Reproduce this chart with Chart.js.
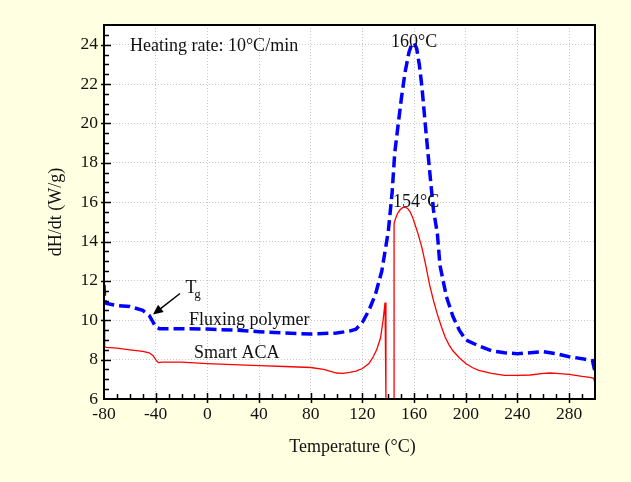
<!DOCTYPE html>
<html>
<head>
<meta charset="utf-8">
<script src="https://cdn.jsdelivr.net/npm/chart.js@4.4.0/dist/chart.umd.min.js"></script>
<style>
  html, body { margin: 0; padding: 0; background: #ffffe1; }
  #wrap { width: 631px; height: 482px; position: relative; }
</style>
</head>
<body>
<div id="wrap"><canvas id="dsc" width="631" height="482"></canvas></div>
<script>
// DSC curves
const fluxTemps = [-80, -79.5, -78, -70, -60, -50, -45, -42, -40, -37, -30, -20, 0, 20, 40, 60, 80, 100, 110, 115, 120, 125, 130, 135, 140, 143, 145, 150, 153, 156, 158, 160, 162, 164, 166, 169, 172, 175, 178, 180, 185, 190, 195, 200, 210, 220, 230, 240, 250, 260, 270, 280, 290, 298, 300];
const fluxValues = [11.8, 11.0, 10.85, 10.75, 10.7, 10.5, 10.25, 9.9, 9.65, 9.57, 9.57, 9.57, 9.55, 9.5, 9.42, 9.35, 9.3, 9.35, 9.45, 9.55, 9.9, 10.5, 11.3, 12.5, 14.5, 16.5, 18.5, 21.2, 22.6, 23.6, 24.0, 24.1, 23.8, 23.0, 21.9, 19.7, 17.6, 15.6, 14.4, 12.8, 11.2, 10.2, 9.5, 9.0, 8.7, 8.45, 8.35, 8.3, 8.35, 8.4, 8.3, 8.15, 8.05, 7.95, 7.4];

const acaTemps = [-80, -79.5, -78, -70, -60, -50, -45, -42, -40, -38, -35, -20, 0, 20, 40, 60, 80, 90, 100, 105, 110, 115, 120, 125, 128, 131, 134, 136, 137.5, 138.2, 144.5, 144.5, 145.5, 147, 149, 151, 153, 155, 157, 159, 161, 163, 166, 169, 172, 175, 178, 181, 184, 187, 190, 195, 200, 205, 210, 220, 230, 240, 250, 260, 265, 270, 280, 290, 296, 299, 300];
const acaValues = [10.0, 8.65, 8.62, 8.58, 8.5, 8.42, 8.35, 8.2, 8.0, 7.85, 7.87, 7.87, 7.8, 7.75, 7.7, 7.65, 7.6, 7.5, 7.32, 7.3, 7.35, 7.42, 7.55, 7.8, 8.1, 8.5, 9.1, 10.0, 10.9, 6.0, 6.0, 14.9, 15.15, 15.4, 15.6, 15.72, 15.75, 15.68, 15.5, 15.2, 14.8, 14.4, 13.7, 12.8, 11.8, 11.0, 10.3, 9.7, 9.15, 8.75, 8.45, 8.1, 7.8, 7.6, 7.45, 7.3, 7.2, 7.2, 7.22, 7.3, 7.32, 7.3, 7.25, 7.15, 7.1, 7.05, 6.8];

const xTicks = [-80, -40, 0, 40, 80, 120, 160, 200, 240, 280];
const yTicks = [6, 8, 10, 12, 14, 16, 18, 20, 22, 24];

const serif = '"Liberation Serif", "Times New Roman", serif';

function toPoints(xs, ys) {
    return xs.map((x, i) => ({ x: x, y: ys[i] }));
}

// background, frame, tick marks, notes
const decor = {
    id: 'decor',
    beforeDraw(chart) {
        const { ctx, chartArea: a } = chart;
        ctx.save();
        ctx.fillStyle = '#ffffe1';
        ctx.fillRect(0, 0, chart.width, chart.height);
        ctx.fillStyle = '#ffffff';
        ctx.fillRect(a.left, a.top, a.right - a.left, a.bottom - a.top);
        ctx.restore();
    },
    afterDraw(chart) {
        const { ctx, chartArea: a, scales: { x, y } } = chart;
        ctx.save();

        // tick marks
        ctx.strokeStyle = '#000';
        ctx.lineWidth = 1.5;
        ctx.beginPath();
        for (let t = -70; t < 300; t += 10) {
            const px = Math.round(x.getPixelForValue(t)) + 0.5;
            const major = xTicks.includes(t);
            ctx.moveTo(px, a.bottom - (major ? 6 : 5));
            ctx.lineTo(px, a.bottom + (major ? 4 : 0));
        }
        for (let v = 6.5; v < 25; v += 0.5) {
            const py = Math.round(y.getPixelForValue(v)) + 0.5;
            const major = yTicks.includes(v);
            ctx.moveTo(a.left - (major ? 3 : 0), py);
            ctx.lineTo(a.left + (major ? 7 : 5), py);
        }
        ctx.stroke();

        // frame
        ctx.lineWidth = 2;
        ctx.strokeRect(a.left, a.top, a.right - a.left, a.bottom - a.top);

        // arrow to Tg
        const x0 = x.getPixelForValue(-21.2), y0 = y.getPixelForValue(11.36);
        const x1 = x.getPixelForValue(-42.1), y1 = y.getPixelForValue(10.29);
        const ang = Math.atan2(y1 - y0, x1 - x0);
        ctx.lineWidth = 1.5;
        ctx.beginPath();
        ctx.moveTo(x0, y0);
        ctx.lineTo(x1 - 6 * Math.cos(ang), y1 - 6 * Math.sin(ang));
        ctx.stroke();
        ctx.fillStyle = '#000';
        ctx.beginPath();
        ctx.moveTo(x1, y1);
        ctx.lineTo(x1 - 10 * Math.cos(ang) + 4.5 * Math.sin(ang), y1 - 10 * Math.sin(ang) - 4.5 * Math.cos(ang));
        ctx.lineTo(x1 - 10 * Math.cos(ang) - 4.5 * Math.sin(ang), y1 - 10 * Math.sin(ang) + 4.5 * Math.cos(ang));
        ctx.closePath();
        ctx.fill();

        // text notes
        ctx.fillStyle = '#111';
        ctx.textBaseline = 'alphabetic';
        ctx.font = '18px ' + serif;
        ctx.textAlign = 'left';
        ctx.fillText('Heating rate: 10°C/min', x.getPixelForValue(-59.9), y.getPixelForValue(23.7));
        ctx.fillText('Fluxing polymer', x.getPixelForValue(-14.2), y.getPixelForValue(9.78));
        ctx.fillText('Smart ACA', x.getPixelForValue(-10.3), y.getPixelForValue(8.1));
        ctx.fillText('T', x.getPixelForValue(-17), y.getPixelForValue(11.4));
        ctx.font = '13px ' + serif;
        ctx.fillText('g', x.getPixelForValue(-10.2), y.getPixelForValue(11.15));
        ctx.font = '18px ' + serif;
        ctx.textAlign = 'center';
        ctx.fillText('160°C', x.getPixelForValue(160), y.getPixelForValue(23.9));
        ctx.fillText('154°C', x.getPixelForValue(161.5), y.getPixelForValue(15.75));

        // axis titles
        ctx.fillText('Temperature (°C)', (a.left + a.right) / 2 + 3, 452);
        ctx.translate(56, 212);
        ctx.rotate(-Math.PI / 2);
        ctx.textBaseline = 'middle';
        ctx.fillText('dH/dt (W/g)', 0, 0);
        ctx.restore();
    }
};

new Chart(document.getElementById('dsc'), {
    type: 'scatter',
    data: {
        datasets: [
            {
                label: 'Fluxing polymer',
                data: toPoints(fluxTemps, fluxValues),
                showLine: true,
                borderColor: '#0000ff',
                borderWidth: 3.5,
                borderDash: [11, 5],
                pointRadius: 0,
                tension: 0
            },
            {
                label: 'Smart ACA',
                data: toPoints(acaTemps, acaValues),
                showLine: true,
                borderColor: '#ff0000',
                borderWidth: 1.3,
                pointRadius: 0,
                tension: 0
            }
        ]
    },
    options: {
        responsive: false,
        animation: false,
        layout: { padding: { left: 0, top: 25, right: 36, bottom: 0 } },
        plugins: {
            legend: { display: false },
            tooltip: { enabled: false }
        },
        scales: {
            x: {
                type: 'linear',
                min: -80,
                max: 300,
                afterFit(scale) { scale.height = 83; },
                afterBuildTicks(scale) { scale.ticks = xTicks.map(v => ({ value: v })); },
                ticks: {
                    includeBounds: false,
                    color: '#111',
                    padding: 5,
                    font: { family: serif, size: 17.5 }
                },
                grid: { color: '#c8c8c8', lineWidth: 1, drawTicks: false },
                border: { display: false, dash: [1, 2] }
            },
            y: {
                min: 6,
                max: 25,
                afterFit(scale) { scale.width = 104; },
                afterBuildTicks(scale) { scale.ticks = yTicks.map(v => ({ value: v })); },
                ticks: {
                    includeBounds: false,
                    color: '#111',
                    padding: 6,
                    font: { family: serif, size: 17.5 }
                },
                grid: { color: '#c8c8c8', lineWidth: 1, drawTicks: false },
                border: { display: false, dash: [1, 2] }
            }
        }
    },
    plugins: [decor]
});
</script>
</body>
</html>
